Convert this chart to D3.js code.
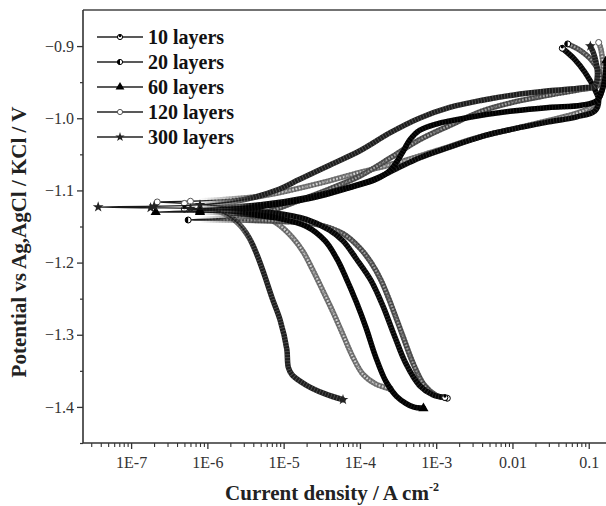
<!DOCTYPE html>
<html>
<head>
<meta charset="utf-8">
<script src="https://cdn.jsdelivr.net/npm/d3@7"></script>
<style>
  body { margin: 0; background: #fff; }
  text { font-family: "Liberation Serif", "Times New Roman", serif; }
</style>
</head>
<body>
<svg id="chart" width="606" height="506"></svg>
<script>
// Polarization curves: [current density (A cm^-2), potential (V vs Ag,AgCl/KCl)]
// Each run goes from the cathodic end, through the corrosion potential, to the anodic end.
const layers10 = [
  [1.3e-3,-1.387],[9e-4,-1.383],[6e-4,-1.370],[4e-4,-1.340],[2.8e-4,-1.300],[2e-4,-1.260],
  [1.4e-4,-1.225],[9e-5,-1.195],[6e-5,-1.170],[4e-5,-1.155],[2e-5,-1.140],[7e-6,-1.131],
  [2e-6,-1.127],[5e-7,-1.126],[1.5e-6,-1.124],[5e-6,-1.120],[2e-5,-1.110],[6e-5,-1.098],
  [1.5e-4,-1.085],[3e-4,-1.070],[6e-4,-1.055],[1.5e-3,-1.040],[4e-3,-1.025],[1e-2,-1.015],
  [3e-2,-1.005],[7e-2,-0.998],[0.12,-0.990],[0.135,-0.975],[0.12,-0.960],[0.09,-0.937],
  [0.065,-0.918],[0.045,-0.903]
];
const layers20 = [
  [1.4e-3,-1.388],[1e-3,-1.384],[7e-4,-1.370],[5e-4,-1.340],[3.6e-4,-1.300],[2.6e-4,-1.260],
  [1.9e-4,-1.225],[1.4e-4,-1.200],[1e-4,-1.180],[6e-5,-1.160],[3e-5,-1.148],[1e-5,-1.143],
  [2e-6,-1.141],[5.6e-7,-1.141],[2e-6,-1.138],[6e-6,-1.130],[1.5e-5,-1.115],[4e-5,-1.098],
  [1e-4,-1.080],[2.5e-4,-1.055],[6e-4,-1.030],[1.5e-3,-1.010],[4e-3,-0.990],[1e-2,-0.978],
  [3e-2,-0.968],[8e-2,-0.960],[0.13,-0.955],[0.14,-0.940],[0.11,-0.920],[0.075,-0.905],
  [0.053,-0.897]
];
const layers60 = [
  [6.8e-4,-1.402],[5e-4,-1.400],[4e-4,-1.395],[3e-4,-1.385],[2.2e-4,-1.365],[1.6e-4,-1.330],
  [1.2e-4,-1.290],[9e-5,-1.255],[6.5e-5,-1.220],[5e-5,-1.195],[3.5e-5,-1.170],[2e-5,-1.150],
  [8e-6,-1.138],[2.5e-6,-1.132],[8e-7,-1.130],[2.1e-7,-1.130],[8e-7,-1.128],[3e-6,-1.125],
  [1e-5,-1.118],[3e-5,-1.108],[8e-5,-1.095],[1.6e-4,-1.085],[2.5e-4,-1.072],[3.5e-4,-1.050],
  [4.5e-4,-1.030],[6e-4,-1.017],[1e-3,-1.008],[3e-3,-0.998],[1e-2,-0.990],[3e-2,-0.985],
  [8e-2,-0.982],[0.13,-0.975],[0.16,-0.950],[0.17,-0.920]
];
const layers120 = [
  [2.5e-4,-1.375],[1.6e-4,-1.368],[1.1e-4,-1.355],[8e-5,-1.330],[6e-5,-1.300],[4.5e-5,-1.270],
  [3.3e-5,-1.240],[2.4e-5,-1.210],[1.8e-5,-1.185],[1.3e-5,-1.165],[8e-6,-1.145],[4e-6,-1.130],
  [1.5e-6,-1.122],[5e-7,-1.118],[2.2e-7,-1.116],[6e-7,-1.115],[2e-6,-1.112],[5e-6,-1.108],
  [1.2e-5,-1.100],[3e-5,-1.090],[1e-4,-1.075],[3e-4,-1.062],[1e-3,-1.045],[3.7e-3,-1.026],
  [1e-2,-1.015],[3e-2,-1.003],[7e-2,-0.993],[0.104,-0.985],[0.14,-0.970],[0.155,-0.935],
  [0.145,-0.905],[0.135,-0.895]
];
const layers300 = [
  [6e-5,-1.390],[3.5e-5,-1.382],[2e-5,-1.370],[1.3e-5,-1.356],[1.15e-5,-1.345],[1.1e-5,-1.320],
  [9e-6,-1.280],[7.1e-6,-1.250],[5.5e-6,-1.215],[4.5e-6,-1.190],[3.5e-6,-1.165],[2.5e-6,-1.145],
  [1.5e-6,-1.130],[6e-7,-1.125],[1.8e-7,-1.124],[3.7e-8,-1.123],[2e-7,-1.122],[8e-7,-1.120],
  [2e-6,-1.116],[4e-6,-1.110],[8e-6,-1.100],[1.6e-5,-1.085],[4e-5,-1.065],[1e-4,-1.045],
  [2.5e-4,-1.020],[6e-4,-1.000],[1.5e-3,-0.985],[4e-3,-0.975],[1e-2,-0.968],[3e-2,-0.962],
  [8e-2,-0.958],[0.12,-0.955],[0.13,-0.940],[0.12,-0.915],[0.105,-0.900]
];

const seriesLabels = ["10 layers", "20 layers", "60 layers", "120 layers", "300 layers"];
const seriesData = [layers10, layers20, layers60, layers120, layers300];

const yTickValues = [-0.9, -1.0, -1.1, -1.2, -1.3, -1.4];
const yMinorValues = [-0.95, -1.05, -1.15, -1.25, -1.35, -1.45];
const xTickValues = [1e-7, 1e-6, 1e-5, 1e-4, 1e-3, 1e-2, 1e-1];
const xTickLabels = ["1E-7", "1E-6", "1E-5", "1E-4", "1E-3", "0.01", "0.1"];

// Appearance per series
const styles = [
  { stroke: "#050505", texture: "#555",    inner: null,      marker: "dotcircle" },
  { stroke: "#555555", texture: "#222",    inner: "#a0a0a0", marker: "halfcircle" },
  { stroke: "#000000", texture: "#333",    inner: null,      marker: "triangle" },
  { stroke: "#777777", texture: "#444",    inner: "#d4d4d4", marker: "circle" },
  { stroke: "#1e1e1e", texture: "#8a8a8a", inner: null,      marker: "star" }
];

const W = 606, H = 506;
const plot = { left: 83, top: 10, bottom: 443, right: 665 };
const thinBelow = 1.5e-6;   // near the corrosion potential the trace is sparse and thin

const svg = d3.select("#chart");

const x = d3.scaleLog().domain([2.34e-8, 1]).range([plot.left, plot.right]);
const y = d3.scaleLinear().domain([-1.45, -0.85]).range([plot.bottom, plot.top]);

const defs = svg.append("defs");
defs.append("clipPath").attr("id", "plotClip")
  .append("rect").attr("x", plot.left).attr("y", plot.top)
  .attr("width", W - plot.left).attr("height", plot.bottom - plot.top);

// Fade the heavy stroke in as the traces leave the corrosion potential region
const grad = defs.append("linearGradient").attr("id", "fadeIn")
  .attr("gradientUnits", "userSpaceOnUse")
  .attr("x1", x(8e-7)).attr("x2", x(4e-6)).attr("y1", 0).attr("y2", 0);
grad.append("stop").attr("offset", 0).attr("stop-color", "#fff").attr("stop-opacity", 0);
grad.append("stop").attr("offset", 1).attr("stop-color", "#fff").attr("stop-opacity", 1);
defs.append("mask").attr("id", "heavyMask").attr("maskUnits", "userSpaceOnUse")
  .attr("x", 0).attr("y", 0).attr("width", W).attr("height", H)
  .append("rect").attr("x", 0).attr("y", 0).attr("width", W).attr("height", H)
  .attr("fill", "url(#fadeIn)");

// Frame: top border and left axis line
svg.append("line").attr("x1", plot.left).attr("x2", W).attr("y1", plot.top).attr("y2", plot.top)
  .attr("stroke", "#444").attr("stroke-width", 1.6);

const tickFont = 16;

// Y axis
const yAxis = svg.append("g").attr("transform", `translate(${plot.left},0)`)
  .call(d3.axisLeft(y).tickValues(yTickValues).tickFormat(d3.format(".1f")).tickSize(6).tickPadding(3));
yAxis.select(".domain").remove();
yAxis.selectAll("text").attr("font-size", tickFont).attr("fill", "#333");
yAxis.selectAll("line").attr("stroke", "#333").attr("stroke-width", 1.3);
svg.append("g").attr("transform", `translate(${plot.left},0)`)
  .call(d3.axisLeft(y).tickValues(yMinorValues).tickFormat("").tickSize(3))
  .call(g => g.select(".domain").remove())
  .selectAll("line").attr("stroke", "#333").attr("stroke-width", 1.2);
svg.append("line").attr("x1", plot.left).attr("x2", plot.left).attr("y1", plot.top).attr("y2", plot.bottom)
  .attr("stroke", "#333").attr("stroke-width", 1.6);

// X axis: decades labelled, 2..9 minor ticks
const xMinorValues = [];
for (let e = -8; e <= -1; e++) {
  for (let m = 2; m <= 9; m++) {
    const v = m * Math.pow(10, e);
    if (x(v) >= plot.left && x(v) <= W) xMinorValues.push(v);
  }
}
const xAxis = svg.append("g").attr("transform", `translate(0,${plot.bottom})`)
  .call(d3.axisBottom(x).tickValues(xTickValues).tickFormat((d, i) => xTickLabels[i]).tickSize(6).tickPadding(8));
xAxis.select(".domain").remove();
xAxis.selectAll("text").attr("font-size", tickFont).attr("fill", "#333");
xAxis.selectAll("line").attr("stroke", "#333").attr("stroke-width", 1.3);
svg.append("g").attr("transform", `translate(0,${plot.bottom})`)
  .call(d3.axisBottom(x).tickValues(xMinorValues).tickFormat("").tickSize(4))
  .call(g => g.select(".domain").remove())
  .selectAll("line").attr("stroke", "#333").attr("stroke-width", 1.1);
svg.append("line").attr("x1", plot.left).attr("x2", W).attr("y1", plot.bottom).attr("y2", plot.bottom)
  .attr("stroke", "#333").attr("stroke-width", 1.6);

// Axis titles
svg.append("text").attr("x", 332).attr("y", 500).attr("text-anchor", "middle")
  .attr("font-size", 21).attr("font-weight", "bold").attr("fill", "#222")
  .text("Current density / A cm")
  .append("tspan").attr("dy", -9).attr("font-size", 12).text("-2");
svg.append("text").attr("transform", "translate(26,242) rotate(-90)").attr("text-anchor", "middle")
  .attr("font-size", 21).attr("font-weight", "bold").attr("fill", "#222")
  .text("Potential vs Ag,AgCl / KCl / V");

// Marker drawing
function drawMarker(g, type, cx, cy, r) {
  r = r || 3;
  if (type === "dotcircle") {
    g.append("circle").attr("cx", cx).attr("cy", cy).attr("r", r).attr("fill", "#fff").attr("stroke", "#000").attr("stroke-width", 1);
    g.append("circle").attr("cx", cx).attr("cy", cy - r * 0.5).attr("r", r * 0.55).attr("fill", "#000");
  } else if (type === "halfcircle") {
    g.append("circle").attr("cx", cx).attr("cy", cy).attr("r", r).attr("fill", "#fff").attr("stroke", "#000").attr("stroke-width", 1);
    g.append("path").attr("d", d3.arc()({ innerRadius: 0, outerRadius: r, startAngle: Math.PI, endAngle: 2 * Math.PI }))
      .attr("transform", `translate(${cx},${cy})`).attr("fill", "#000");
  } else if (type === "triangle") {
    g.append("path").attr("d", d3.symbol(d3.symbolTriangle, r * r * 5)()).attr("transform", `translate(${cx},${cy})`).attr("fill", "#000");
  } else if (type === "circle") {
    g.append("circle").attr("cx", cx).attr("cy", cy).attr("r", r).attr("fill", "#fff").attr("stroke", "#555").attr("stroke-width", 1);
  } else if (type === "star") {
    g.append("path").attr("d", d3.symbol(d3.symbolStar, r * r * 4)()).attr("transform", `translate(${cx},${cy})`).attr("fill", "#222");
  }
}

// Curves
const line = d3.line()
  .x(d => x(d[0])).y(d => y(d[1]))
  .curve(d3.curveCatmullRom.alpha(0.5));

const curves = svg.append("g").attr("clip-path", "url(#plotClip)");
const drawOrder = [3, 1, 0, 2, 4];
drawOrder.forEach(i => {
  const s = styles[i];
  const pts = seriesData[i];
  const g = curves.append("g");
  const d = line(pts);
  // thin base trace along the whole run
  g.append("path").attr("d", d).attr("fill", "none").attr("stroke", "#1a1a1a").attr("stroke-width", 1.4);
  // heavy trace where the measured points crowd together
  const heavy = g.append("g").attr("mask", "url(#heavyMask)");
  heavy.append("path").attr("d", d).attr("fill", "none").attr("stroke", s.stroke)
    .attr("stroke-width", 5.5).attr("stroke-linejoin", "round").attr("stroke-linecap", "round");
  if (s.inner) {
    heavy.append("path").attr("d", d).attr("fill", "none").attr("stroke", s.inner)
      .attr("stroke-width", 2).attr("stroke-dasharray", "2,1.5");
  }
  heavy.append("path").attr("d", d).attr("fill", "none").attr("stroke", s.texture)
    .attr("stroke-width", 5.5).attr("stroke-dasharray", "0.8,2.2").attr("opacity", 0.5);
  // markers on the sparse points near the corrosion potential and at both ends
  pts.forEach((p, k) => {
    if (p[0] < thinBelow || k === 0 || k === pts.length - 1) {
      drawMarker(g, s.marker, x(p[0]), y(p[1]), 3);
    }
  });
});

// Legend
const legend = svg.append("g");
const legendRows = [37, 62, 87, 112, 137];
seriesLabels.forEach((name, i) => {
  const cy = legendRows[i];
  legend.append("line").attr("x1", 97).attr("x2", 143).attr("y1", cy).attr("y2", cy)
    .attr("stroke", "#222").attr("stroke-width", 1.4);
  drawMarker(legend, styles[i].marker, 120, cy, 2.6);
  legend.append("text").attr("x", 148).attr("y", cy + 6.5)
    .attr("font-size", 20).attr("font-weight", "bold").attr("fill", "#111").text(name);
});
</script>
</body>
</html>
